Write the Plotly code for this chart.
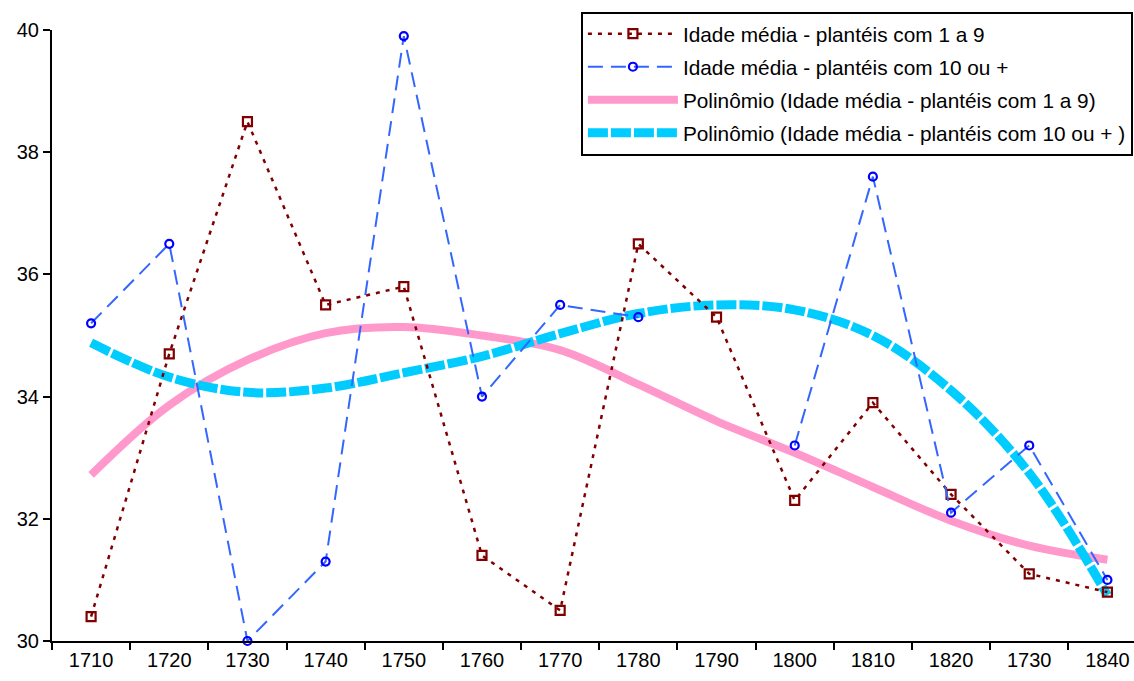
import plotly.graph_objects as go

categories = ["1710", "1720", "1730", "1740", "1750", "1760", "1770", "1780",
              "1790", "1800", "1810", "1820", "1730", "1840"]
idade_1a9 = [30.4, 34.7, 38.5, 35.5, 35.8, 31.4, 30.5, 36.5, 35.3, 32.3, 33.9, 32.4, 31.1, 30.8]
idade_10mais = [35.2, 36.5, 30.0, 31.3, 39.9, 34.0, 35.5, 35.3, None, 33.2, 37.6, 32.1, 33.2, 31.0]
poli_1a9 = [32.72, 33.86, 34.6, 35.04, 35.14, 35.0, 34.76, 34.2, 33.6, 33.08, 32.52, 31.97, 31.56, 31.33]
poli_10mais = [34.88, 34.32, 34.07, 34.14, 34.39, 34.66, 35.03, 35.36, 35.5, 35.42, 35.0, 34.1, 32.75, 30.75]

names = ["Idade média - plantéis com 1 a 9",
         "Idade média - plantéis com 10 ou +",
         "Polinômio (Idade média - plantéis com 1 a 9)",
         "Polinômio (Idade média - plantéis com 10 ou + )"]

xpos = list(range(len(categories)))
FONT = "Liberation Sans, Arial, sans-serif"

fig = go.Figure()
fig.add_trace(go.Scatter(
    x=xpos, y=poli_1a9, mode="lines", name=names[2], legendrank=3, legendgroup="c",
    line=dict(color="#FF99CC", width=8, shape="spline", smoothing=1.0), cliponaxis=True))
fig.add_trace(go.Scatter(
    x=xpos, y=poli_10mais, mode="lines", name=names[3], legendrank=4, legendgroup="d",
    line=dict(color="#00CCFF", width=9, dash="20px,3px", shape="spline", smoothing=1.0),
    cliponaxis=True))
fig.add_trace(go.Scatter(
    x=xpos, y=idade_1a9, mode="lines+markers", name=names[0], legendrank=1, legendgroup="a",
    line=dict(color="#800000", width=2.5, dash="4px,6px"),
    marker=dict(symbol="square-open", size=9, color="#800000", line=dict(width=2.2)),
    cliponaxis=False))
fig.add_trace(go.Scatter(
    x=xpos, y=idade_10mais, mode="lines+markers", name=names[1], legendrank=2, legendgroup="b",
    line=dict(color="#3366FF", width=2, dash="15px,8px"),
    marker=dict(symbol="circle-open", size=8, color="#0000FF", line=dict(width=2.2)),
    connectgaps=False, cliponaxis=False))

fig.update_layout(
    width=1134, height=681,
    margin=dict(l=52, r=0, t=30, b=40, autoexpand=False),
    paper_bgcolor="white", plot_bgcolor="white",
    font=dict(family=FONT, size=20, color="black"),
    showlegend=True,
    legend=dict(
        x=0.999, y=1.03, xanchor="right", yanchor="top",
        bgcolor="white", bordercolor="black", borderwidth=2,
        font=dict(family=FONT, size=20.8, color="black"),
        itemwidth=90, tracegroupgap=3, traceorder="grouped",
    ),
    xaxis=dict(
        range=[-0.5, 13.34], tickmode="array", tickvals=xpos, ticktext=categories,
        ticks="", showgrid=False, zeroline=False,
        showline=True, linecolor="black", linewidth=2,
        tickfont=dict(family=FONT, size=20, color="black"),
        minor=dict(tickmode="linear", tick0=-0.5, dtick=1, ticks="outside",
                   ticklen=7, tickwidth=2, tickcolor="black", showgrid=False),
    ),
    yaxis=dict(
        range=[30, 40], tickmode="linear", tick0=30, dtick=2,
        ticks="outside", ticklen=7, tickwidth=2, tickcolor="black",
        showgrid=False, zeroline=False,
        showline=True, linecolor="black", linewidth=2,
        tickfont=dict(family=FONT, size=20, color="black"),
    ),
)

fig.write_html("out.html")
